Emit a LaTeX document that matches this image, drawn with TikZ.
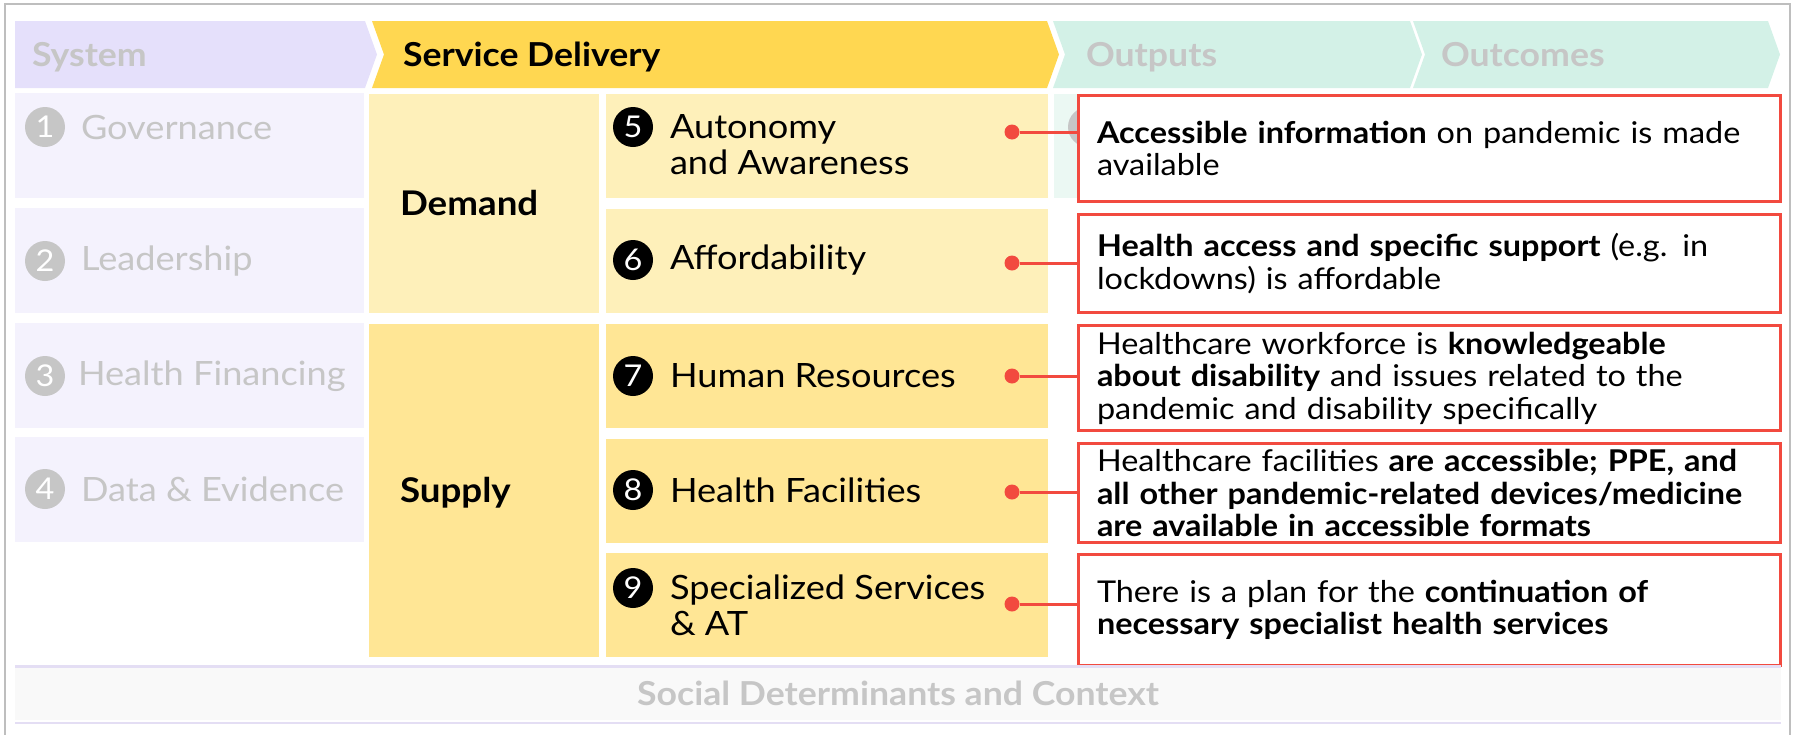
\documentclass[tikz,border=0pt]{standalone}
\usepackage{fontspec}
\setmainfont{Lato}[FakeStretch=1.08]
\usetikzlibrary{positioning}

\definecolor{framegray}{HTML}{BEBEBE}
\definecolor{syshead}{HTML}{E5E0FB}
\definecolor{sysfill}{HTML}{F4F2FD}
\definecolor{sdhead}{HTML}{FFD751}
\definecolor{demfill}{HTML}{FEF0BA}
\definecolor{supfill}{HTML}{FFE695}
\definecolor{minthead}{HTML}{D3F1E7}
\definecolor{mintfill}{HTML}{EBF8F3}
\definecolor{outred}{HTML}{F24A3F}
\definecolor{fadetext}{HTML}{C6C6C6}
\definecolor{lavline}{HTML}{E4DEF4}
\definecolor{socfill}{HTML}{F9F9F9}

\begin{document}
\begin{tikzpicture}[
        x=1pt, y=-1pt,
        every node/.style={inner sep=0pt, outer sep=0pt},
        headtext/.style={anchor=west, text height=24pt, text depth=0pt, font=\fontsize{33}{33}\selectfont\bfseries},
        syscell/.style={fill=sysfill, anchor=north west, minimum width=349pt, minimum height=105pt},
        itemcell/.style={anchor=north west, minimum width=442pt, minimum height=104pt},
        sidecell/.style={anchor=north west, minimum width=230pt},
        numgray/.style={circle, fill=fadetext, text=white, minimum size=40pt, font=\fontsize{30}{30}\selectfont},
        numdark/.style={circle, fill=black, text=white, minimum size=40pt, font=\fontsize{30}{30}\selectfont},
        systext/.style={text=fadetext, font=\fontsize{33.5}{36}\selectfont},
        itemtext/.style={anchor=west, align=left, font=\fontsize{33.5}{36}\selectfont},
        sidetext/.style={anchor=west, text height=24pt, text depth=0pt, font=\fontsize{34}{34}\selectfont\bfseries},
        outbox/.style={draw=outred, line width=3pt, fill=white, minimum width=702pt,
            text width=665pt, inner xsep=18.5pt, align=left, font=\fontsize{30}{32.5}\selectfont},
        dot/.style={circle, fill=outred, minimum size=15pt},
        link/.style={draw=outred, line width=3pt}
    ]
    \useasboundingbox (0,0) rectangle (1796,734);
    \clip (0,0) rectangle (1796,734);
    \draw[framegray, line width=2.5pt] (5,4) rectangle (1790,760);

    % header chevrons
    \fill[syshead] (15,21) -- (365,21) -- (377,54.5) -- (365,88) -- (15,88) -- cycle;
    \fill[sdhead] (372,21) -- (1047,21) -- (1059,54.5) -- (1047,88) -- (372,88) -- (384,54.5) -- cycle;
    \fill[minthead] (1053,21) -- (1410,21) -- (1422,54.5) -- (1410,88) -- (1053,88) -- (1065,54.5) -- cycle;
    \fill[minthead] (1413,21) -- (1768,21) -- (1780,54.5) -- (1768,88) -- (1413,88) -- (1425,54.5) -- cycle;
    \node[headtext, text=fadetext] (hsys) at (32,54.5) {System};
    \node[headtext] (hsd) at (403,54.5) {Service Delivery};
    \node[headtext, text=fadetext] (hout) at (1086,54.5) {Outputs};
    \node[headtext, text=fadetext] (hoc) at (1441,54.5) {Outcomes};

    % system column
    \node[syscell] (s1) at (15,93) {};
    \node[syscell] (s2) at (15,208) {};
    \node[syscell] (s3) at (15,323) {};
    \node[syscell] (s4) at (15,437) {};
    \node[numgray] (n1) at (45,127) {1};
    \node[numgray] (n2) at (45,261) {2};
    \node[numgray] (n3) at (45,376) {3};
    \node[numgray] (n4) at (45,489) {4};
    \node[systext, right=16pt of n1] (t1) {Governance};
    \node[systext, right=16pt of n2] (t2) {Leadership};
    \node[systext, right=13pt of n3] (t3) {Health Financing};
    \node[systext, right=16pt of n4] (t4) {Data \& Evidence};

    % demand / supply
    \node[sidecell, fill=demfill, minimum height=219pt] (dem) at (369,94) {};
    \node[sidecell, fill=supfill, minimum height=333pt] (sup) at (369,324) {};
    \node[sidetext] (tdem) at (400,203) {Demand};
    \node[sidetext] (tsup) at (400,490) {Supply};

    % service delivery items
    \node[itemcell, fill=demfill] (c5) at (606,94) {};
    \node[itemcell, fill=demfill] (c6) at (606,209) {};
    \node[itemcell, fill=supfill] (c7) at (606,324) {};
    \node[itemcell, fill=supfill] (c8) at (606,439) {};
    \node[itemcell, fill=supfill] (c9) at (606,553) {};
    \node[numdark] (n5) at (633,127) {5};
    \node[numdark] (n6) at (633,260) {6};
    \node[numdark] (n7) at (633,376) {7};
    \node[numdark] (n8) at (633,490) {8};
    \node[numdark] (n9) at (633,588) {9};
    \node[itemtext] (t5) at (670,145) {Autonomy\\and Awareness};
    \node[itemtext] (t6) at (670,260) {Affordability};
    \node[itemtext] (t7) at (670,376) {Human Resources};
    \node[itemtext] (t8) at (670,490) {Health Facilities};
    \node[itemtext] (t9) at (670,605) {Specialized Services\\\& AT};

    % outputs column (mostly covered)
    \node[anchor=north west, fill=mintfill, minimum width=150pt, minimum height=104pt] (m1) at (1054,94) {};
    \node[numgray] (m1n) at (1088,127) {};

    % output boxes
    \node[outbox, minimum height=106pt] (o5) at (1429.5,148.5) {\textbf{Accessible information} on pandemic is made\\available};
    \node[outbox, minimum height=98pt] (o6) at (1429.5,263.5) {\textbf{Health access and specific support} (e.g. in\\lockdowns) is affordable};
    \node[outbox, minimum height=105pt] (o7) at (1429.5,378) {Healthcare workforce is \textbf{knowledgeable}\\\textbf{about disability} and issues related to the\\pandemic and disability specifically};
    \node[outbox, minimum height=99pt] (o8) at (1429.5,493) {Healthcare facilities \textbf{are accessible; PPE, and}\\\textbf{all other pandemic-related devices/medicine}\\\textbf{are available in accessible formats}};
    \node[outbox, minimum height=111pt] (o9) at (1429.5,610) {There is a plan for the \textbf{continuation of}\\\textbf{necessary specialist health services}};

    % connectors
    \node[dot] (p5) at (1012,132) {};
    \node[dot] (p6) at (1012,263) {};
    \node[dot] (p7) at (1012,376) {};
    \node[dot] (p8) at (1012,492) {};
    \node[dot] (p9) at (1012,604) {};
    \draw[link] (p5) -- (p5 -| o5.west);
    \draw[link] (p6) -- (p6 -| o6.west);
    \draw[link] (p7) -- (p7 -| o7.west);
    \draw[link] (p8) -- (p8 -| o8.west);
    \draw[link] (p9) -- (p9 -| o9.west);

    % social determinants band
    \fill[socfill] (15,668) rectangle (1781,720);
    \draw[lavline, line width=2.5pt] (15,666.5) -- (1781,666.5);
    \draw[lavline, line width=2.5pt] (15,723) -- (1781,723);
    \node[text=fadetext, font=\fontsize{33}{33}\selectfont\bfseries] (soc) at (898,693) {Social Determinants and Context};
\end{tikzpicture}
\end{document}
